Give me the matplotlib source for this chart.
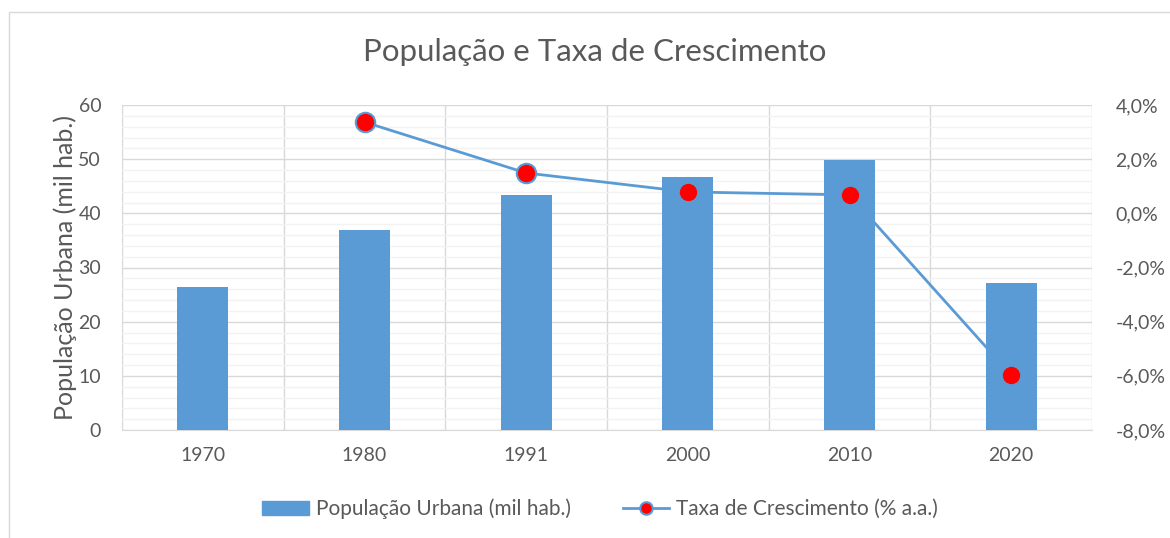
import matplotlib
matplotlib.use("Agg")
import matplotlib.pyplot as plt
from matplotlib.patches import Rectangle
from matplotlib.lines import Line2D
from matplotlib.ticker import MultipleLocator, FixedLocator, FuncFormatter
import numpy as np

anos = ["1970", "1980", "1991", "2000", "2010", "2020"]
populacao = [26.4, 36.9, 43.4, 46.7, 49.9, 27.1]
taxa = [np.nan, 3.37, 1.49, 0.79, 0.68, -5.97]

azul = "#5B9BD5"
texto = "#595959"
plt.rcParams["font.family"] = ["Lato", "DejaVu Sans"]

fig = plt.figure(figsize=(11.7, 5.38), dpi=100)
ax = fig.add_axes([122 / 1170, 1 - 430 / 538, 970 / 1170, 325 / 538])
ax2 = ax.twinx()
ax3 = ax.twinx()

x = np.arange(len(anos))

# eixo direito (taxa)
for a in (ax2, ax3):
    a.set_ylim(-8, 4)
    a.yaxis.set_major_locator(MultipleLocator(2))
    for s in a.spines.values():
        s.set_visible(False)
ax2.yaxis.set_major_formatter(FuncFormatter(lambda v, p: f"{v:.1f}%".replace(".", ",")))
ax2.tick_params(length=0, colors=texto, labelsize=14, pad=17)
ax3.set_yticks([])

# barras (eixo esquerdo) e linha atrás das barras
ax.bar(x, populacao, width=0.315, color=azul, zorder=3)
ax.plot(x, taxa, color=azul, lw=2, zorder=2, transform=ax2.transData)
ax.set_xlim(-0.5, len(anos) - 0.5)
ax.set_ylim(0, 60)
ax.yaxis.set_major_locator(MultipleLocator(10))
ax.yaxis.set_minor_locator(MultipleLocator(2))
ax.xaxis.set_major_locator(FixedLocator(x))
ax.xaxis.set_minor_locator(FixedLocator(np.arange(-0.5, len(anos), 1)))
ax.set_xticklabels(anos)
ax.grid(axis="y", which="minor", color="#F2F2F2", lw=1, zorder=0)
ax.grid(axis="y", which="major", color="#D9D9D9", lw=1, zorder=0)
ax.grid(axis="x", which="minor", color="#D9D9D9", lw=1, zorder=0)
ax.tick_params(which="both", length=0, colors=texto, labelsize=14)
ax.tick_params(axis="y", pad=15)
ax.tick_params(axis="x", pad=12)
for s in ["top", "left", "right"]:
    ax.spines[s].set_visible(False)
ax.spines["bottom"].set_color("#D9D9D9")
ax.set_ylabel("População Urbana (mil hab.)", fontsize=18, color=texto, labelpad=1)

ax.set_zorder(2)
ax.patch.set_visible(False)
ax2.set_zorder(1)
ax3.set_zorder(3)
# marcadores na frente das barras
ax3.plot(x, taxa, ls="none", marker="o", ms=14, mfc="red", mec=azul, mew=1.5)

# legenda
handles = [
    Rectangle((0, 0), 1, 1, color=azul),
    Line2D([], [], color=azul, lw=2, marker="o", ms=9, mfc="red", mec=azul, mew=1.5),
]
fig.legend(handles, ["População Urbana (mil hab.)", "Taxa de Crescimento (% a.a.)"],
           loc="center", bbox_to_anchor=(600 / 1170, 1 - 509 / 538), ncol=2, frameon=False,
           fontsize=15, labelcolor=texto, columnspacing=2.5, handlelength=2.25,
           handletextpad=0.3)

fig.suptitle("População e Taxa de Crescimento", x=595 / 1170, y=1 - 52 / 538, va="center",
             fontsize=22.5, color=texto)

# borda do gráfico
fig.patches.append(Rectangle((9 / 1170, -0.1), 1.1, 1.1 - 12 / 538,
                             transform=fig.transFigure, fill=False,
                             edgecolor="#D9D9D9", lw=1))

fig.savefig("out.png", dpi=100, facecolor="white")
